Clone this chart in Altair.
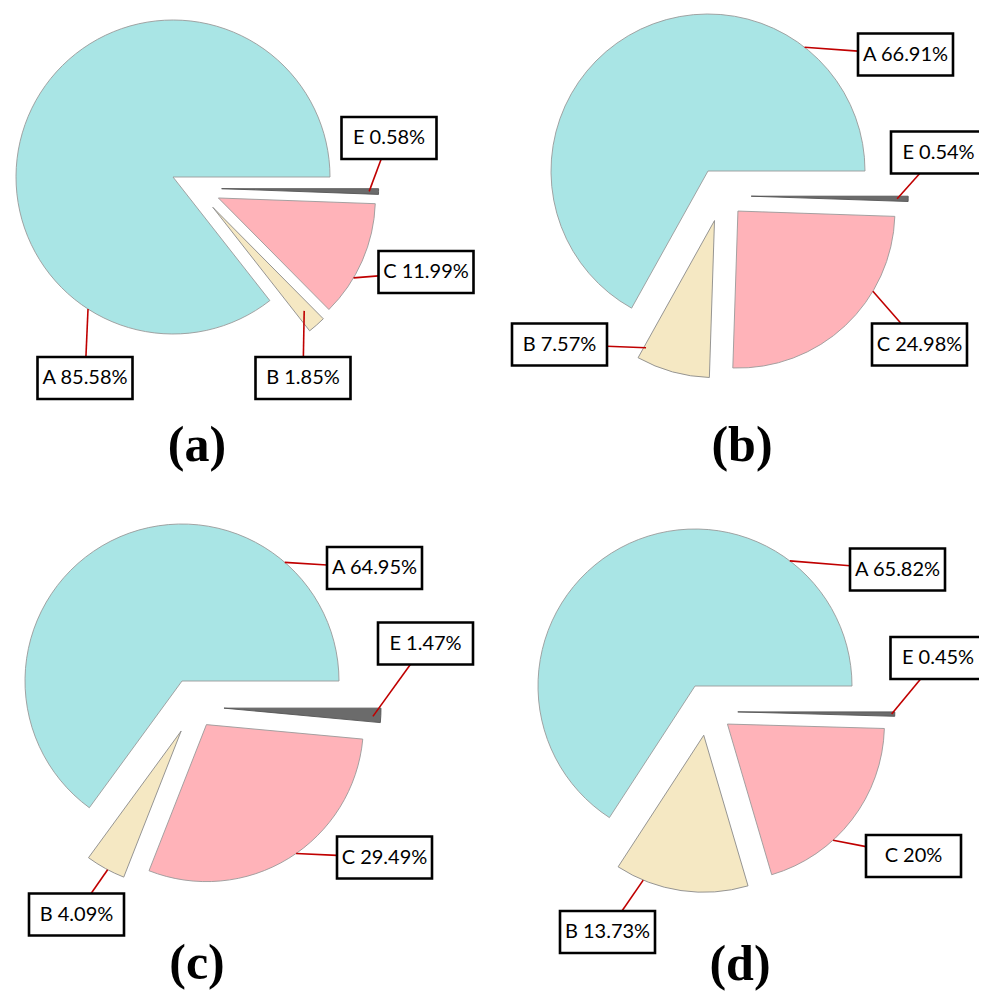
import math
import altair as alt
import pandas as pd

# ---------------- data ----------------
panels = ["a", "b", "c", "d"]
captions = ["(a)", "(b)", "(c)", "(d)"]
categories = ["E", "C", "B", "A"]          # clockwise from 3 o'clock
values_a = [0.58, 11.99, 1.85, 85.58]
values_b = [0.54, 24.98, 7.57, 66.91]
values_c = [1.47, 29.49, 4.09, 64.95]
values_d = [0.45, 20, 13.73, 65.82]
all_values = [values_a, values_b, values_c, values_d]

color_domain = ["A", "B", "C", "E"]
color_range = ["#A9E5E5", "#F5E8C3", "#FFB3B9", "#6B6B6B"]
stroke_range = ["#9a9a9a", "#8a8a8a", "#9a9a9a", "#555555"]

# ---------------- layout (page pixels) ----------------
R = 157
EXPLODE = 50
HW, HH = 47.5, 21          # half box size
pie_cx = [173, 708, 182, 695]
pie_cy = [177, 171, 681, 686]
cap_x = [197, 742, 197, 740]
cap_y = [461, 461, 979, 980]
# (fraction along slice, radius factor, box dx, box dy) for E, C, B, A
label_layout = [
    [(0.5, 0.94, 216, -39), (0.66, 1.0, 253, 95), (0.5, 0.88, 130, 201), (0.23, 1.0, -88, 201)],
    [(0.5, 0.93, 230.5, -18.5), (0.32, 1.0, 211.5, 173.5), (0.97, 0.92, -148.5, 173.5), (0.784, 1.0, 197.5, -116.5)],
    [(0.6, 0.95, 243.5, -37.5), (0.47, 1.0, 202.5, 176.5), (0.44, 1.0, -105.5, 233.5), (0.79, 1.0, 192.5, -113)],
    [(0.5, 0.98, 243, -28), (0.64, 1.0, 218.5, 170), (0.79, 1.0, -87.5, 246), (0.777, 1.0, 202.5, -116.5)],
]

rows = []
for pi_, p in enumerate(panels):
    for ci, cat in enumerate(categories):
        fr, rf, bdx, bdy = label_layout[pi_][ci]
        rows.append(dict(panel=p, cat=cat, ord=ci, value=all_values[pi_][ci],
                         cx=pie_cx[pi_], cy=pie_cy[pi_], frac=fr, rfac=rf, bdx=bdx, bdy=bdy))
df = pd.DataFrame(rows)
cap_df = pd.DataFrame(dict(caption=captions, x=cap_x, y=cap_y))

W, H = 971, 984
xs = alt.Scale(domain=[8, 8 + W], range=[0, W])
ys = alt.Scale(domain=[8, 8 + H], range=[0, H])

base = (
    alt.Chart(df)
    .transform_window(c1="sum(value)", groupby=["panel"], sort=[alt.SortField("ord")], frame=[None, 0])
    .transform_calculate(c0="datum.c1 - datum.value",
                         restv="datum.cat == 'A' ? 0 : datum.value")
    .transform_joinaggregate(rest="sum(restv)", groupby=["panel"])
    .transform_calculate(
        m="PI/2 + PI*(datum.c0 + datum.c1)/100",
        g="PI/2 + PI*datum.rest/100",
        ex=f"datum.cat == 'A' ? 0 : {EXPLODE}",
    )
    .transform_calculate(dir="(datum.m + datum.g)/2")
    .transform_calculate(vx="datum.cx + datum.ex*sin(datum.dir)",
                         vy="datum.cy - datum.ex*cos(datum.dir)",
                         la="PI/2 + 2*PI*(datum.c0 + datum.frac*datum.value)/100",
                         bx="datum.cx + datum.bdx",
                         by="datum.cy + datum.bdy",
                         lab="datum.cat + ' ' + datum.value + '%'")
    .transform_calculate(sx=f"datum.vx + datum.rfac*{R}*sin(datum.la)",
                         sy=f"datum.vy - datum.rfac*{R}*cos(datum.la)",
                         x0=f"datum.bx - {HW}", x1=f"datum.bx + {HW}",
                         y0=f"datum.by - {HH}", y1=f"datum.by + {HH}")
    .transform_calculate(ux="datum.sx - datum.bx", uy="datum.sy - datum.by")
    .transform_calculate(tt=f"min({HW}/max(abs(datum.ux), 0.001), {HH}/max(abs(datum.uy), 0.001))")
    .transform_calculate(lx="datum.bx + datum.tt*datum.ux", ly="datum.by + datum.tt*datum.uy")
)

arcs = base.mark_arc(radius=R, strokeWidth=0.9).encode(
    x=alt.X("vx:Q", scale=xs, axis=None),
    y=alt.Y("vy:Q", scale=ys, axis=None),
    theta=alt.Theta("c0:Q", scale=alt.Scale(domain=[0, 100], range=[math.pi / 2, math.pi / 2 + 2 * math.pi]), stack=None),
    theta2="c1:Q",
    color=alt.Color("cat:N", scale=alt.Scale(domain=color_domain, range=color_range), legend=None),
    stroke=alt.Stroke("cat:N", scale=alt.Scale(domain=color_domain, range=stroke_range), legend=None),
)

leaders = base.mark_rule(color="#C00000", strokeWidth=1.6).encode(
    x=alt.X("sx:Q", scale=xs, axis=None), y=alt.Y("sy:Q", scale=ys, axis=None),
    x2="lx:Q", y2="ly:Q",
)

boxes = base.mark_rect(fill="white", stroke="black", strokeWidth=2.6).encode(
    x=alt.X("x0:Q", scale=xs, axis=None), x2="x1:Q",
    y=alt.Y("y0:Q", scale=ys, axis=None), y2="y1:Q",
)

labels = base.mark_text(font="Lato", fontSize=20, color="black", align="center", baseline="middle").encode(
    x=alt.X("bx:Q", scale=xs, axis=None), y=alt.Y("by:Q", scale=ys, axis=None), text="lab:N",
)

caps = alt.Chart(cap_df).mark_text(font="Liberation Serif", fontWeight="bold", fontSize=50,
                                   color="black", align="center", baseline="alphabetic").encode(
    x=alt.X("x:Q", scale=xs, axis=None), y=alt.Y("y:Q", scale=ys, axis=None), text="caption:N",
)

chart = (
    alt.layer(arcs, leaders, boxes, labels, caps)
    .properties(width=W, height=H, padding=0, autosize=alt.AutoSizeParams(type="none"))
    .configure_view(stroke=None)
)

chart.save("out.html", embed_options={"renderer": "svg", "actions": False})
